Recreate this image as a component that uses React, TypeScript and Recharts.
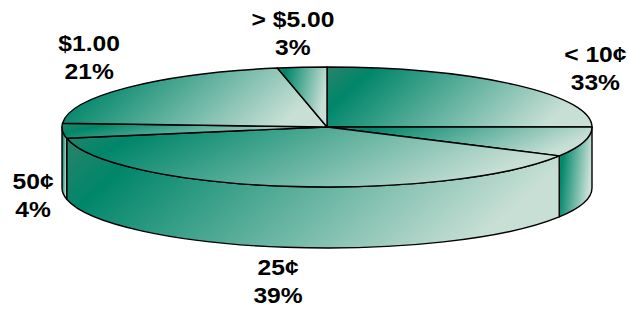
import { Pie, PieChart } from "recharts"

// coin bands and their share of the total (%)
const bands = ["< 10¢", "25¢", "50¢", "$1.00", "> $5.00"]
const shares = [33, 39, 4, 21, 3]

const data = bands.map((name, i) => ({ name, value: shares[i] }))

const SQUASH = 60 / 265 // tilt of the disc
const DEPTH = 61 // thickness of the disc in px
const FONT = 22
const STRETCH = 1.12 // labels are a little wider than plain Arial

const rad = (a: number) => (a * Math.PI) / 180
const clamp = (v: number) => Math.max(-1, Math.min(1, v))

function Slice3D(props: any) {
  const { cx, cy, outerRadius, startAngle, endAngle } = props
  const rx = outerRadius
  const ry = outerRadius * SQUASH
  const pt = (a: number, dy = 0) =>
    `${cx + rx * Math.cos(rad(a))},${cy - ry * Math.sin(rad(a)) + dy}`
  const hi = Math.max(startAngle, endAngle)
  const lo = Math.min(startAngle, endAngle)
  const gid = `grad-${Math.round(hi * 100)}`

  // top face, cut at 0deg like the original
  const cuts = [hi]
  for (let k = -2; k <= 2; k++) {
    const c = k * 360
    if (c < hi - 0.01 && c > lo + 0.01) cuts.push(c)
  }
  cuts.push(lo)
  const tops = []
  for (let i = 0; i < cuts.length - 1; i++) {
    const a1 = cuts[i]
    const a2 = cuts[i + 1]
    const large = a1 - a2 > 180 ? 1 : 0
    tops.push(`M${cx},${cy} L${pt(a1)} A${rx},${ry} 0 ${large} 1 ${pt(a2)} Z`)
  }

  // front wall: the part of the arc in the lower half
  const sides = []
  for (let k = -2; k <= 2; k++) {
    const b1 = Math.min(hi, k * 360)
    const b2 = Math.max(lo, k * 360 - 180)
    if (b1 - b2 > 0.01) {
      sides.push(
        `M${pt(b1)} A${rx},${ry} 0 0 1 ${pt(b2)} L${pt(b2, DEPTH)} A${rx},${ry} 0 0 0 ${pt(b1, DEPTH)} Z`
      )
    }
  }

  return (
    <g>
      <defs>
        <linearGradient id={gid} x1="0" y1="0" x2="1" y2="0.25">
          <stop offset="0" stopColor="#2a836a" />
          <stop offset="0.17" stopColor="#00866a" />
          <stop offset="1" stopColor="#c7dfd5" />
        </linearGradient>
      </defs>
      {sides.map((d, i) => (
        <path key={`s${i}`} d={d} fill={`url(#${gid})`} stroke="#000" strokeWidth={1.4} strokeLinejoin="round" />
      ))}
      {tops.map((d, i) => (
        <path key={`t${i}`} d={d} fill={`url(#${gid})`} stroke="#000" strokeWidth={1.4} strokeLinejoin="round" />
      ))}
    </g>
  )
}

function renderLabel(props: any) {
  const { cx, cy, midAngle, outerRadius, payload } = props
  const s = Math.sin(rad(midAngle))
  const c = Math.cos(rad(midAngle))
  const ry = outerRadius * SQUASH
  // point on the rim (bottom of the wall for the front half)
  const ex = cx + outerRadius * c
  const ey = cy - ry * s + (s < 0 ? DEPTH : 0)
  const line1 = payload.name as string
  const line2 = `${payload.value}%`
  const halfW = (Math.max(line1.length, line2.length) * FONT * 0.5 * STRETCH) / 2
  const gap = 11
  const x = ex + c * gap + halfW * clamp(2 * c)
  const y = ey - s * gap - 23 * clamp(2 * s)
  return (
    <text
      x={x}
      y={y}
      textAnchor="middle"
      fontFamily="'Liberation Sans', Arial, sans-serif"
      fontWeight="bold"
      fontSize={FONT}
      fill="#000"
      transform={`translate(${x},0) scale(${STRETCH},1) translate(${-x},0)`}
    >
      <tspan x={x} y={y - 6}>{line1}</tspan>
      <tspan x={x} y={y + 22}>{line2}</tspan>
    </text>
  )
}

export default function App() {
  return (
    <div style={{ position: "absolute", left: 0, top: 0, width: 628, height: 311, background: "#fff" }}>
      <PieChart width={628} height={311} margin={{ top: 0, right: 0, bottom: 0, left: 0 }}>
        <Pie
          data={data}
          dataKey="value"
          nameKey="name"
          cx={327}
          cy={127}
          outerRadius={265}
          startAngle={90}
          endAngle={-270}
          stroke="none"
          shape={Slice3D}
          label={renderLabel}
          labelLine={false}
          isAnimationActive={false}
        />
      </PieChart>
    </div>
  )
}
